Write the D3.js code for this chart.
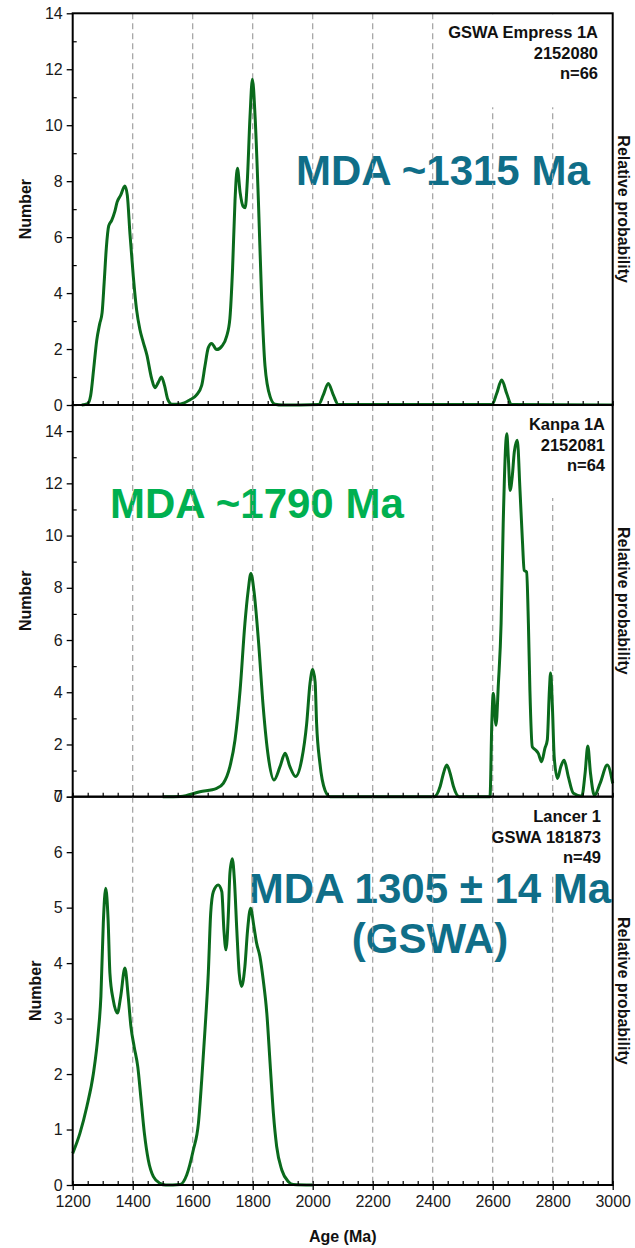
<!DOCTYPE html>
<html>
<head>
<meta charset="utf-8">
<script src="https://cdn.jsdelivr.net/npm/d3@7"></script>
<style>
  body { margin: 0; background: #fff; }
  text { font-family: "Liberation Sans", Arial, sans-serif; }
</style>
</head>
<body>
<div id="chart"></div>
<script>
// Detrital zircon age spectra for three drill holes

const ageTicks = [1200, 1400, 1600, 1800, 2000, 2200, 2400, 2600, 2800, 3000];
const ageGrid = [1400, 1600, 1800, 2000, 2200, 2400, 2600, 2800];

const empressAge = [1230, 1250, 1260, 1270, 1280, 1290, 1298, 1305, 1312, 1320, 1330, 1340, 1348, 1360, 1374, 1382, 1391, 1402, 1413, 1424, 1435, 1447, 1463, 1474, 1485, 1496, 1506, 1517, 1530, 1560, 1590, 1613, 1630, 1641, 1652, 1663, 1680, 1697, 1713, 1724, 1733, 1741, 1749, 1758, 1768, 1775, 1782, 1791, 1799, 1808, 1819, 1830, 1841, 1858, 1874, 1900, 2020, 2035, 2052, 2069, 2085, 2598, 2613, 2630, 2647, 2662, 3000];
const empressN = [0, 0.05, 0.35, 1.3, 2.3, 2.9, 3.3, 4.4, 5.6, 6.4, 6.6, 6.9, 7.25, 7.5, 7.83, 7.5, 6.1, 4.6, 3.4, 2.7, 2.25, 1.8, 0.95, 0.62, 0.8, 1.0, 0.7, 0.2, 0.03, 0.04, 0.18, 0.36, 0.7, 1.4, 2.05, 2.2, 1.98, 2.1, 2.45, 3.1, 4.9, 7.3, 8.46, 7.6, 7.1, 7.05, 8.0, 10.3, 11.64, 10.3, 7.3, 3.75, 1.4, 0.3, 0.03, 0, 0.02, 0.35, 0.77, 0.35, 0.02, 0.02, 0.4, 0.89, 0.4, 0.02, 0];

const kanpaAge = [1500, 1560, 1624, 1680, 1702, 1724, 1741, 1758, 1774, 1785, 1794, 1804, 1819, 1835, 1852, 1871, 1891, 1908, 1924, 1943, 1963, 1980, 1991, 2000, 2008, 2013, 2024, 2041, 2058, 2405, 2425, 2436, 2447, 2458, 2469, 2488, 2591, 2597, 2602, 2611, 2619, 2628, 2635, 2647, 2652, 2658, 2665, 2672, 2682, 2691, 2699, 2705, 2713, 2719, 2724, 2732, 2743, 2752, 2763, 2774, 2782, 2789, 2793, 2799, 2805, 2816, 2827, 2838, 2852, 2869, 2897, 2908, 2917, 2926, 2939, 2958, 2982, 3000];
const kanpaN = [0, 0.01, 0.19, 0.32, 0.51, 1.15, 2.17, 4.08, 6.63, 7.9, 8.55, 7.9, 6.0, 3.44, 1.53, 0.64, 1.15, 1.66, 1.15, 0.77, 1.4, 2.81, 4.34, 4.87, 4.4, 2.81, 1.28, 0.25, 0, 0, 0.4, 0.9, 1.21, 0.9, 0.4, 0, 0, 2.81, 3.96, 2.74, 4.34, 6.63, 10.46, 13.9, 13.0, 11.73, 12.24, 13.2, 13.65, 11.73, 9.82, 8.67, 8.6, 6.63, 4.08, 1.91, 1.79, 1.66, 1.34, 1.85, 2.17, 4.08, 4.74, 3.44, 1.53, 0.7, 1.15, 1.4, 0.77, 0.13, 0.02, 0.9, 1.94, 0.9, 0.05, 0.51, 1.21, 0.51];

const lancerAge = [1200, 1224, 1247, 1269, 1285, 1294, 1302, 1310, 1318, 1324, 1335, 1349, 1360, 1374, 1385, 1394, 1405, 1417, 1428, 1439, 1452, 1469, 1491, 1510, 1558, 1580, 1602, 1619, 1630, 1641, 1652, 1660, 1669, 1685, 1697, 1704, 1711, 1719, 1724, 1732, 1739, 1747, 1755, 1763, 1774, 1783, 1793, 1804, 1813, 1824, 1835, 1847, 1858, 1869, 1880, 1897, 1919, 1935, 2000];
const lancerN = [0.57, 0.93, 1.41, 2.01, 2.74, 3.4, 4.72, 5.35, 4.78, 3.82, 3.34, 3.1, 3.4, 3.91, 3.4, 2.86, 2.49, 2.13, 1.53, 0.93, 0.45, 0.15, 0.03, 0, 0.01, 0.18, 0.63, 1.11, 1.89, 2.8, 3.82, 4.9, 5.29, 5.41, 5.29, 4.6, 4.24, 4.9, 5.62, 5.88, 5.5, 4.6, 3.82, 3.58, 3.94, 4.6, 4.99, 4.66, 4.36, 4.12, 3.7, 3.1, 2.19, 1.29, 0.69, 0.27, 0.06, 0.01, 0];

const empressLabel = ["GSWA Empress 1A", "2152080", "n=66"];
const kanpaLabel = ["Kanpa 1A", "2152081", "n=64"];
const lancerLabel = ["Lancer 1", "GSWA 181873", "n=49"];

const empressMda = ["MDA ~1315 Ma"];
const kanpaMda = ["MDA ~1790 Ma"];
const lancerMda = ["MDA 1305 \u00b1 14 Ma", "(GSWA)"];

const width = 635;
const height = 1248;
const left = 72.7;
const right = 612.7;
const lineColor = "#0a6a1c";
const teal = "#0f6e88";
const green = "#00b050";

const panels = [
  { age: empressAge, n: empressN, yMax: 14, major: d3.range(0, 15, 2), minor: d3.range(1, 14, 2),
    top: 13.3, bottom: 405, label: empressLabel, labelX: 598, labelY: 38, boxX: 470, boxH: 93,
    mda: empressMda, mdaColor: teal, mdaX: 296, mdaY: 185, mdaAnchor: "start", numberX: 31 },
  { age: kanpaAge, n: kanpaN, yMax: 15, major: d3.range(0, 15, 2), minor: d3.range(1, 16, 2),
    top: 405, bottom: 796.7, label: kanpaLabel, labelX: 605, labelY: 430, boxX: 520, boxH: 92,
    mda: kanpaMda, mdaColor: green, mdaX: 110, mdaY: 518, mdaAnchor: "start", numberX: 31 },
  { age: lancerAge, n: lancerN, yMax: 7, major: d3.range(0, 8, 1), minor: [],
    top: 796.7, bottom: 1185, label: lancerLabel, labelX: 601, labelY: 822, boxX: 500, boxH: 76,
    mda: lancerMda, mdaColor: teal, mdaX: 430, mdaY: 903, mdaAnchor: "middle", numberX: 41 }
];

const svg = d3.select("#chart")
  .append("svg")
  .attr("width", width)
  .attr("height", height)
  .style("background-color", "#fff");

const x = d3.scaleLinear().domain([1200, 3000]).range([left, right]);

panels.forEach((p, i) => {
  const y = d3.scaleLinear().domain([0, p.yMax]).range([p.bottom, p.top]);
  const g = svg.append("g");

  // big annotation text
  const mda = g.append("text")
    .attr("x", p.mdaX)
    .attr("y", p.mdaY)
    .attr("text-anchor", p.mdaAnchor)
    .attr("fill", p.mdaColor)
    .attr("font-weight", "bold")
    .style("font-size", "42px");
  p.mda.forEach((line, k) => {
    mda.append("tspan").attr("x", p.mdaX).attr("dy", k === 0 ? 0 : 50).text(line);
  });

  // dashed age grid
  g.append("g")
    .selectAll("line")
    .data(ageGrid)
    .join("line")
    .attr("x1", (d) => x(d))
    .attr("x2", (d) => x(d))
    .attr("y1", p.top)
    .attr("y2", p.bottom)
    .attr("stroke", "#a0a0a0")
    .attr("stroke-width", 1.2)
    .attr("stroke-dasharray", "6,4");

  // sample label sits on a white box that hides the grid behind it
  g.append("rect")
    .attr("x", p.boxX)
    .attr("y", p.top + 1)
    .attr("width", right - p.boxX - 1)
    .attr("height", p.boxH)
    .attr("fill", "#fff");

  const lab = g.append("text")
    .attr("x", p.labelX)
    .attr("y", p.labelY)
    .attr("text-anchor", "end")
    .attr("font-weight", "bold")
    .attr("fill", "#111")
    .style("font-size", "16.5px");
  p.label.forEach((line, k) => {
    lab.append("tspan").attr("x", p.labelX).attr("dy", k === 0 ? 0 : 20.5).text(line);
  });

  // probability curve
  const pts = p.age.map((a, k) => [a, p.n[k]]);
  const line = d3.line()
    .x((d) => x(d[0]))
    .y((d) => y(d[1]))
    .curve(d3.curveMonotoneX);

  g.append("path")
    .datum(pts)
    .attr("d", line)
    .attr("fill", "none")
    .attr("stroke", lineColor)
    .attr("stroke-width", 3)
    .attr("stroke-linejoin", "round");

  // y axis: major ticks outside, minor ticks inside
  const yAxis = g.append("g")
    .attr("transform", `translate(${left},0)`)
    .call(d3.axisLeft(y).tickValues(p.major).tickSize(6).tickPadding(4).tickFormat(d3.format("d")));
  yAxis.select(".domain").remove();
  yAxis.selectAll("line").attr("stroke", "#000").attr("stroke-width", 1.3);
  yAxis.selectAll("text")
    .attr("fill", "#1a1a1a")
    .style("font-family", '"Liberation Sans", Arial, sans-serif')
    .style("font-size", "16px");

  const yMinor = g.append("g")
    .attr("transform", `translate(${left},0)`)
    .call(d3.axisRight(y).tickValues(p.minor).tickSize(4).tickFormat(""));
  yMinor.select(".domain").remove();
  yMinor.selectAll("line").attr("stroke", "#000").attr("stroke-width", 1.2);

  // minor age ticks along each panel floor
  const xMinor = g.append("g")
    .attr("transform", `translate(0,${p.bottom})`)
    .call(d3.axisTop(x).ticks(45).tickSize(4).tickFormat(""));
  xMinor.select(".domain").remove();
  xMinor.selectAll("line").attr("stroke", "#000").attr("stroke-width", 1.2);

  // right-hand label
  svg.append("text")
    .attr("transform", `translate(618,${(p.top + p.bottom) / 2}) rotate(90)`)
    .attr("text-anchor", "middle")
    .attr("font-weight", "bold")
    .attr("fill", "#111")
    .style("font-size", "16px")
    .text("Relative probability");

  svg.append("text")
    .attr("transform", `translate(${p.numberX},${(p.top + p.bottom) / 2}) rotate(-90)`)
    .attr("text-anchor", "middle")
    .attr("font-weight", "bold")
    .attr("fill", "#111")
    .style("font-size", "16px")
    .text("Number");

  // panel frame
  g.append("rect")
    .attr("x", left)
    .attr("y", p.top)
    .attr("width", right - left)
    .attr("height", p.bottom - p.top)
    .attr("fill", "none")
    .attr("stroke", "#000")
    .attr("stroke-width", 2);
});

// shared age axis under the last panel
const last = panels[panels.length - 1];
const xAxis = svg.append("g")
  .attr("transform", `translate(0,${last.bottom})`)
  .call(d3.axisBottom(x).tickValues(ageTicks).tickSize(5).tickPadding(6).tickFormat(d3.format("d")));
xAxis.select(".domain").remove();
xAxis.selectAll("line").attr("stroke", "#000").attr("stroke-width", 1.3);
xAxis.selectAll("text")
  .attr("fill", "#1a1a1a")
  .style("font-family", '"Liberation Sans", Arial, sans-serif')
  .style("font-size", "16px");

svg.append("text")
  .attr("x", (left + right) / 2)
  .attr("y", 1242)
  .attr("text-anchor", "middle")
  .attr("font-weight", "bold")
  .attr("fill", "#111")
  .style("font-size", "16px")
  .text("Age (Ma)");
</script>
</body>
</html>
